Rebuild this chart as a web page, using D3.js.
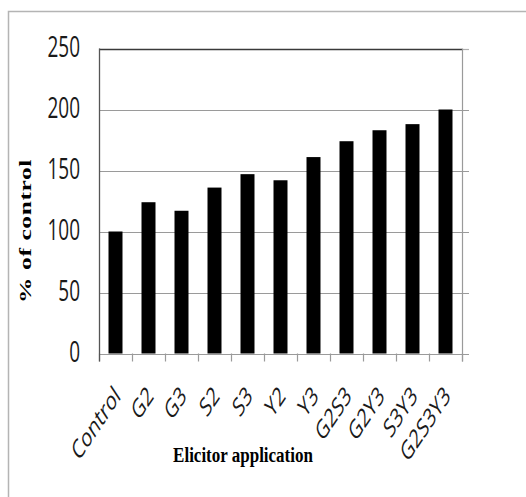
<!DOCTYPE html>
<html>
<head>
<meta charset="utf-8">
<script src="https://cdn.jsdelivr.net/npm/d3@7"></script>
<style>
  html, body { margin: 0; padding: 0; background: #fff; }
  svg { display: block; }
</style>
</head>
<body>
<svg id="chart" width="526" height="497"></svg>
<script>
const categories = ["Control", "G2", "G3", "S2", "S3", "Y2", "Y3", "G2S3", "G2Y3", "S3Y3", "G2S3Y3"];
const values = [100, 124, 117, 136, 147, 142, 161, 174, 183, 188, 200];
const yTicks = [0, 50, 100, 150, 200, 250];
const yTitle = "% of control";
const xTitle = "Elicitor application";

(function () {
const svg = d3.select("#chart");
const pLeft = 99, pRight = 462, pTop = 48.5, pBottom = 353.5;
const sansFont = "'Open Sans', 'Noto Sans', sans-serif";
const serifBold = "'Liberation Serif', 'Times New Roman', serif";
const stretch = 1.5;

// outer frame
svg.append("path")
  .attr("d", "M8.5,500 L8.5,11.5 L530,11.5")
  .attr("fill", "none").attr("stroke", "#b4b4b4").attr("stroke-width", 1.5);

const x = d3.scaleBand().domain(categories).range([pLeft, pRight])
  .paddingInner(0.576).paddingOuter(0.288);
const y = d3.scaleLinear().domain([0, 250]).range([pBottom, pTop]);

// gridlines
svg.append("g").selectAll("line").data(yTicks.filter(t => t > 0 && t < 250)).join("line")
  .attr("x1", pLeft).attr("x2", 469)
  .attr("y1", d => Math.round(y(d)) + 0.5).attr("y2", d => Math.round(y(d)) + 0.5)
  .attr("stroke", "#9a9a9a").attr("stroke-width", 1.2);

// top line
svg.append("line").attr("x1", pRight).attr("x2", 469)
  .attr("y1", Math.round(y(250)) + 0.5).attr("y2", Math.round(y(250)) + 0.5)
  .attr("stroke", "#b0b0b0").attr("stroke-width", 1.2);
svg.append("line").attr("x1", pLeft).attr("x2", pRight)
  .attr("y1", Math.round(y(250)) + 0.5).attr("y2", Math.round(y(250)) + 0.5)
  .attr("stroke", "#3a3a3a").attr("stroke-width", 1.5);

// right frame
svg.append("line").attr("x1", pRight + 0.5).attr("x2", pRight + 0.5)
  .attr("y1", y(250)).attr("y2", pBottom + 8)
  .attr("stroke", "#9a9a9a").attr("stroke-width", 1.2);

// bars
svg.append("g").selectAll("rect").data(values).join("rect")
  .attr("x", (d, i) => x(categories[i]))
  .attr("width", x.bandwidth())
  .attr("y", d => y(d))
  .attr("height", d => y(0) - y(d))
  .attr("fill", "#000");

// x axis baseline and ticks
svg.append("line").attr("x1", pLeft).attr("x2", 469)
  .attr("y1", Math.round(pBottom) + 0.5).attr("y2", Math.round(pBottom) + 0.5)
  .attr("stroke", "#9a9a9a").attr("stroke-width", 1.2);
const boundaries = categories.map(c => x(c) - x.step() * x.paddingInner() / 2).concat([pRight]);
svg.append("g").selectAll("line").data(boundaries).join("line")
  .attr("x1", d => Math.round(d) + 0.5).attr("x2", d => Math.round(d) + 0.5)
  .attr("y1", pBottom).attr("y2", pBottom + 8)
  .attr("stroke", "#9a9a9a").attr("stroke-width", 1.2);

// left axis line
svg.append("line").attr("x1", pLeft + 0.5).attr("x2", pLeft + 0.5)
  .attr("y1", y(250)).attr("y2", pBottom + 8)
  .attr("stroke", "#555").attr("stroke-width", 1.3);

// y tick labels
svg.append("g").selectAll("text").data(yTicks).join("text")
  .attr("transform", d => `translate(80,${y(d) + 8.5}) scale(1,${stretch})`)
  .attr("text-anchor", "end")
  .attr("font-family", sansFont).attr("font-size", 19)
  .attr("fill", "#1a1a1a")
  .text(d => d);

// x tick labels
svg.append("g").selectAll("text").data(categories).join("text")
  .attr("transform", d => `translate(${x(d) + x.bandwidth() / 2 + 6},${pBottom + 44}) scale(1,${stretch}) rotate(-45)`)
  .attr("text-anchor", "end")
  .attr("font-family", sansFont).attr("font-size", 17.5)
  .attr("fill", "#1a1a1a")
  .text(d => d);

// axis titles
svg.append("text")
  .attr("transform", "translate(31,231) scale(1,1.5) rotate(-90)")
  .attr("text-anchor", "middle")
  .attr("font-family", serifBold).attr("font-weight", "bold").attr("font-size", 17)
  .attr("letter-spacing", 0.4)
  .attr("fill", "#000")
  .text(yTitle);

svg.append("text")
  .attr("transform", "translate(243,462) scale(1,1.2)")
  .attr("text-anchor", "middle")
  .attr("font-family", serifBold).attr("font-weight", "bold").attr("font-size", 17)
  .attr("fill", "#000")
  .text(xTitle);
})();
</script>
</body>
</html>
